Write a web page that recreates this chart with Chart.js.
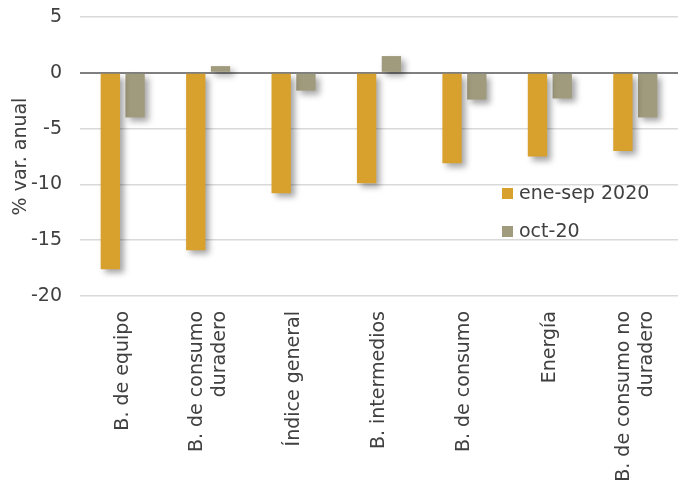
<!DOCTYPE html>
<html lang="es">
<head>
    <meta charset="UTF-8">
    <title>% var. anual</title>
    <script src="https://cdn.jsdelivr.net/npm/chart.js"></script>
    <style>
        html, body {
            margin: 0;
            padding: 0;
            background: #fff;
        }
        .chart-box {
            position: relative;
            width: 685px;
            height: 497px;
        }
    </style>
</head>
<body>
    <div class="chart-box">
        <canvas id="grafico"></canvas>
    </div>

    <script>
        // Datos
        const categorias = [
            'B. de equipo',
            ['B. de consumo', 'duradero'],
            'Índice general',
            'B. intermedios',
            'B. de consumo',
            'Energía',
            ['B. de consumo no', 'duradero']
        ];
        const eneSep2020 = [-17.6, -15.9, -10.8, -9.9, -8.1, -7.5, -7.0];
        const oct20 = [-4.0, 0.6, -1.6, 1.5, -2.4, -2.3, -4.0];
        const ticksY = [5, 0, -5, -10, -15, -20];

        const fuente = '"DejaVu Sans", sans-serif';
        const tamFuente = 19;
        const colorTexto = '#404040';

        // Sombra de las barras
        const sombra = {
            id: 'sombra',
            beforeDatasetsDraw(chart) {
                const ctx = chart.ctx;
                ctx.save();
                ctx.shadowColor = 'rgba(0,0,0,0.35)';
                ctx.shadowBlur = 6;
                ctx.shadowOffsetX = 4;
                ctx.shadowOffsetY = 4;
            },
            afterDatasetsDraw(chart) {
                chart.ctx.restore();
            }
        };

        // Etiquetas del eje x, giradas y centradas en cada categoría
        const etiquetasX = {
            id: 'etiquetasX',
            afterDraw(chart) {
                const ctx = chart.ctx;
                const escala = chart.scales.x;
                const interlinea = 23;
                ctx.save();
                ctx.font = tamFuente + 'px ' + fuente;
                ctx.fillStyle = colorTexto;
                ctx.textAlign = 'right';
                ctx.textBaseline = 'middle';
                categorias.forEach((cat, i) => {
                    const lineas = Array.isArray(cat) ? cat : [cat];
                    const px = escala.getPixelForTick(i);
                    lineas.forEach((linea, j) => {
                        const dx = (j - (lineas.length - 1) / 2) * interlinea;
                        ctx.save();
                        ctx.translate(px + dx, escala.top + 15);
                        ctx.rotate(-Math.PI / 2);
                        ctx.fillText(linea, 0, 0);
                        ctx.restore();
                    });
                });
                ctx.restore();
            }
        };

        // Leyenda dentro del área del gráfico
        const leyenda = {
            id: 'leyenda',
            afterDraw(chart) {
                const ctx = chart.ctx;
                const x = 502, ys = [193, 231];
                ctx.save();
                ctx.font = tamFuente + 'px ' + fuente;
                ctx.textBaseline = 'middle';
                chart.data.datasets.forEach((ds, i) => {
                    ctx.fillStyle = ds.backgroundColor;
                    ctx.fillRect(x, ys[i] - 5, 11, 11);
                    ctx.fillStyle = colorTexto;
                    ctx.fillText(ds.label, x + 17, ys[i] + 1);
                });
                ctx.restore();
            }
        };

        new Chart(document.getElementById('grafico'), {
            type: 'bar',
            data: {
                labels: categorias,
                datasets: [{
                    label: 'ene-sep 2020',
                    data: eneSep2020,
                    backgroundColor: '#D8A02D',
                    barPercentage: 0.78,
                    categoryPercentage: 0.58
                }, {
                    label: 'oct-20',
                    data: oct20,
                    backgroundColor: '#A19B7D',
                    barPercentage: 0.78,
                    categoryPercentage: 0.58
                }]
            },
            options: {
                responsive: true,
                maintainAspectRatio: false,
                animation: false,
                layout: {
                    padding: { top: 17, right: 7, left: 0, bottom: 0 }
                },
                plugins: {
                    legend: { display: false },
                    tooltip: { enabled: false }
                },
                scales: {
                    x: {
                        grid: { display: false },
                        border: { display: false },
                        ticks: { display: false },
                        afterFit(scale) { scale.height = 201; }
                    },
                    y: {
                        min: -20,
                        max: 5,
                        afterBuildTicks(scale) {
                            scale.ticks = ticksY.map(v => ({ value: v }));
                        },
                        border: { display: false },
                        grid: {
                            drawTicks: false,
                            color: ctx => ctx.tick && ctx.tick.value === 0 ? '#808080' : '#D9D9D9',
                            lineWidth: ctx => ctx.tick && ctx.tick.value === 0 ? 2 : 1.5
                        },
                        ticks: {
                            padding: 18,
                            color: colorTexto,
                            font: { family: fuente, size: tamFuente }
                        },
                        title: {
                            display: true,
                            text: '% var. anual',
                            color: colorTexto,
                            font: { family: fuente, size: tamFuente },
                            padding: { top: 10, bottom: 0 }
                        },
                        afterFit(scale) {
                            scale.width = 80;
                            scale.paddingTop = 0;
                            scale.paddingBottom = 0;
                        }
                    }
                }
            },
            plugins: [sombra, etiquetasX, leyenda]
        });
    </script>
</body>
</html>
